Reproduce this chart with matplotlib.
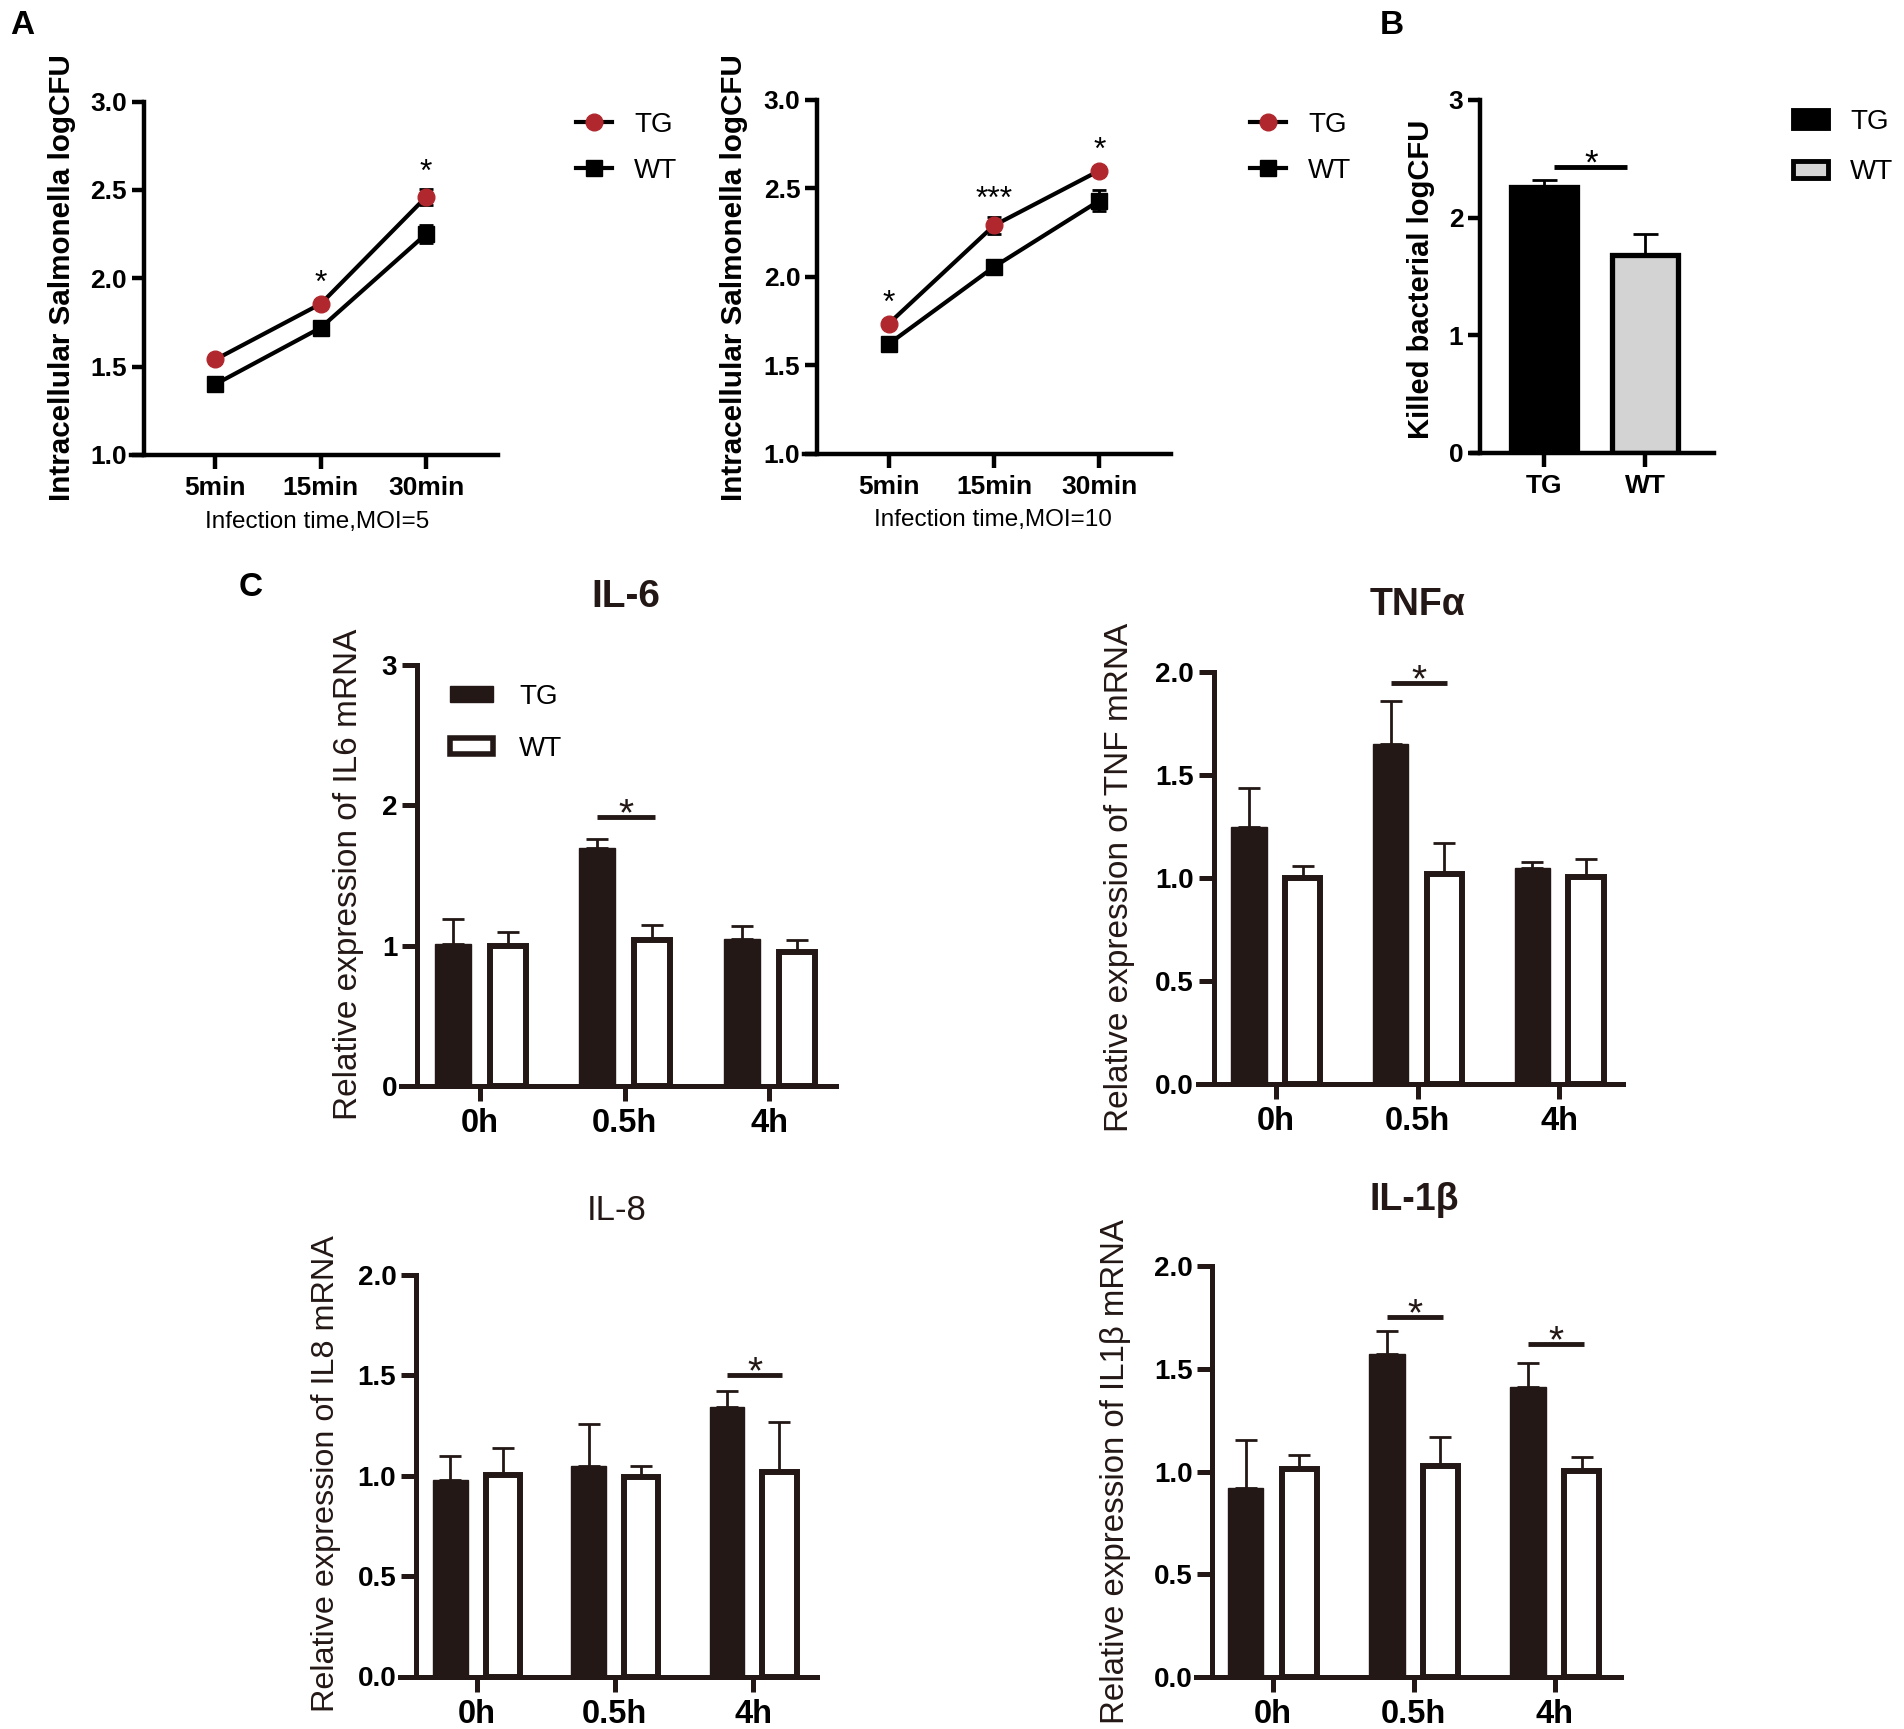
import numpy as np
import matplotlib
matplotlib.use("Agg")
import matplotlib.pyplot as plt
from matplotlib.lines import Line2D
from matplotlib.patches import Patch

plt.rcParams['font.family'] = ['Liberation Sans', 'DejaVu Sans']

# ---- data ----
times = ['5min', '15min', '30min']
moi5_tg = [1.54, 1.855, 2.46]
moi5_tg_err = [0.02, 0.02, 0.045]
moi5_wt = [1.40, 1.72, 2.25]
moi5_wt_err = [0.02, 0.02, 0.05]
moi5_stars = ['', '*', '*']

moi10_tg = [1.735, 2.29, 2.60]
moi10_tg_err = [0.02, 0.05, 0.02]
moi10_wt = [1.62, 2.056, 2.43]
moi10_wt_err = [0.02, 0.02, 0.06]
moi10_stars = ['*', '***', '*']

groups_b = ['TG', 'WT']
killed = [2.26, 1.68]
killed_err = [0.06, 0.18]
killed_sig = 2.43

hours = ['0h', '0.5h', '4h']
il6_tg = [1.01, 1.70, 1.05]
il6_tg_err = [0.18, 0.06, 0.09]
il6_wt = [1.00, 1.04, 0.955]
il6_wt_err = [0.10, 0.105, 0.085]
il6_sig = [(1, 1.92)]

tnf_tg = [1.25, 1.652, 1.047]
tnf_tg_err = [0.19, 0.21, 0.032]
tnf_wt = [1.00, 1.02, 1.005]
tnf_wt_err = [0.06, 0.15, 0.087]
tnf_sig = [(1, 1.95)]

il8_tg = [0.977, 1.048, 1.341]
il8_tg_err = [0.123, 0.211, 0.079]
il8_wt = [1.002, 0.996, 1.02]
il8_wt_err = [0.134, 0.052, 0.248]
il8_sig = [(2, 1.50)]

il1b_tg = [0.919, 1.573, 1.411]
il1b_tg_err = [0.232, 0.11, 0.115]
il1b_wt = [1.01, 1.027, 1.003]
il1b_wt_err = [0.071, 0.143, 0.067]
il1b_sig = [(1, 1.75), (2, 1.62)]

RED = '#b0282e'
DARK = '#231815'
W, H = 1904, 1729
fig = plt.figure(figsize=(W / 100, H / 100), dpi=100)


def px_axes(left, right, top, bottom):
    return fig.add_axes([left / W, 1 - bottom / H, (right - left) / W, (bottom - top) / H])


def fx(x):
    return x / W


def fy(y):
    return 1 - y / H


def style_axes(ax, xlim, ylim, lw, tlen, color, ext):
    ax.set_xlim(xlim)
    ax.set_ylim(ylim)
    for s in ['top', 'right']:
        ax.spines[s].set_visible(False)
    for s in ['left', 'bottom']:
        ax.spines[s].set_linewidth(lw)
        ax.spines[s].set_color(color)
    ax.spines['bottom'].set_bounds(xlim[0] - ext, xlim[1])
    ax.tick_params(axis='both', width=lw, length=tlen, color=color, direction='out')


# ---------------- Panel A ----------------
def line_panel(ax, tg, tg_err, wt, wt_err, stars, xlabel_text, xl_pos):
    x = np.arange(len(times))
    ax.errorbar(x, wt, yerr=wt_err, fmt='-s', color='black', lw=3, ms=12,
                capsize=5, capthick=2, elinewidth=2, zorder=3)
    ax.errorbar(x, tg, yerr=tg_err, fmt='-o', color='black', mfc=RED, mec=RED,
                lw=3, ms=12, capsize=5, capthick=2, elinewidth=2, ecolor='black', zorder=4)
    for i, s in enumerate(stars):
        if s:
            ax.annotate(s, (x[i], tg[i] + tg_err[i]), xytext=(0, 6), textcoords='offset points',
                        ha='center', va='baseline', fontsize=23)
    style_axes(ax, (-0.68, 2.68), (1.0, 3.0), 3.2, 9, 'black', 0.12)
    ax.set_xticks(x, times, fontsize=19, fontweight='bold')
    yt = [1.0, 1.5, 2.0, 2.5, 3.0]
    ax.set_yticks(yt, [f'{v:.1f}' for v in yt], fontsize=19, fontweight='bold')
    ax.tick_params(axis='x', length=10, pad=5)
    ax.tick_params(axis='y', pad=3)
    fig.text(fx(xl_pos[0]), fy(xl_pos[1]), xlabel_text, ha='center', va='center', fontsize=17.5)


axA1 = px_axes(143.8, 497.8, 101.5, 454.9)
line_panel(axA1, moi5_tg, moi5_tg_err, moi5_wt, moi5_wt_err, moi5_stars,
           'Infection time,MOI=5', (317, 522))
axA2 = px_axes(817, 1171, 99.8, 453.8)
line_panel(axA2, moi10_tg, moi10_tg_err, moi10_wt, moi10_wt_err, moi10_stars,
           'Infection time,MOI=10', (993, 520))

for xc, yc in [(62.5, 278), (733.5, 278)]:
    fig.text(fx(xc), fy(yc), 'Intracellular Salmonella logCFU', rotation=90,
             ha='center', va='center', fontsize=21.3, fontweight='bold')

line_handles = [Line2D([], [], color='black', lw=3, marker='o', ms=12, mfc=RED, mec=RED),
                Line2D([], [], color='black', lw=3, marker='s', ms=12)]
for left in [576, 1250]:
    fig.legend(line_handles, ['TG', 'WT'], loc='center left',
               bbox_to_anchor=(fx(left), fy(148)), bbox_transform=fig.transFigure,
               frameon=False, fontsize=20, handlelength=1.3, handletextpad=0.8,
               labelspacing=0.72, borderpad=0, borderaxespad=0)

# ---------------- Panel B ----------------
axB = px_axes(1480, 1714, 99.8, 453)
xb = np.arange(len(groups_b))
axB.errorbar(xb, killed, yerr=[np.zeros(len(killed)), killed_err], fmt='none',
             ecolor='black', elinewidth=2, capsize=9, capthick=2, zorder=1)
axB.bar(xb, killed, width=0.65, color=['black', '#d3d3d3'], edgecolor='black',
        linewidth=3.8, zorder=2)
axB.plot([0.1, 0.82], [killed_sig, killed_sig], color='black', lw=3.5, solid_capstyle='butt')
axB.annotate('*', (0.46, killed_sig), xytext=(0, -5), textcoords='offset points',
             ha='center', va='baseline', fontsize=25)
style_axes(axB, (-0.636, 1.68), (0, 3), 3.2, 9, 'black', 0.08)
axB.set_xticks(xb, groups_b, fontsize=19, fontweight='bold')
axB.set_yticks([0, 1, 2, 3], ['0', '1', '2', '3'], fontsize=19, fontweight='bold')
axB.tick_params(axis='x', length=10, pad=5)
axB.tick_params(axis='y', pad=3)
fig.text(fx(1420.7), fy(279.3), 'Killed bacterial logCFU', rotation=90,
         ha='center', va='center', fontsize=21, fontweight='bold')
bar_handles_b = [Patch(facecolor='black', edgecolor='black', lw=3.5),
                 Patch(facecolor='#d3d3d3', edgecolor='black', lw=3.5)]
fig.legend(bar_handles_b, ['TG', 'WT'], loc='center left',
           bbox_to_anchor=(fx(1793), fy(147)), bbox_transform=fig.transFigure,
           frameon=False, fontsize=20, handlelength=1.25, handleheight=0.6,
           handletextpad=0.8, labelspacing=0.88, borderpad=0, borderaxespad=0)


# ---------------- Panel C ----------------
def bar_panel(ax, tg, tg_err, wt, wt_err, sig, ylim, yt, xlim, ydec):
    x = np.arange(len(hours))
    off, bw = 0.19, 0.25
    for xs, v, e, fc in [(x - off, tg, tg_err, DARK), (x + off, wt, wt_err, 'white')]:
        ax.errorbar(xs, v, yerr=[np.zeros(len(v)), e], fmt='none', ecolor=DARK,
                    elinewidth=2, capsize=8, capthick=2, zorder=1)
        ax.bar(xs, v, width=bw, color=fc, edgecolor=DARK, linewidth=4.3 if fc == 'white' else 1,
               zorder=2)
    for i, yv in sig:
        ax.plot([i - 0.19, i + 0.21], [yv, yv], color=DARK, lw=3.5, solid_capstyle='butt')
        ax.annotate('*', (i + 0.01, yv), xytext=(0, -6), textcoords='offset points',
                    ha='center', va='baseline', fontsize=28, color=DARK)
    style_axes(ax, xlim, ylim, 3.6, 11, DARK, 0.11)
    ax.set_xticks(x, hours, fontsize=23.5, fontweight='bold')
    ax.set_yticks(yt, [f'{v:.{ydec}f}' for v in yt], fontsize=20, fontweight='bold')
    ax.tick_params(axis='x', pad=5)
    ax.tick_params(axis='y', pad=3)


ax6 = px_axes(416.6, 836, 665.2, 1086)
bar_panel(ax6, il6_tg, il6_tg_err, il6_wt, il6_wt_err, il6_sig, (0, 3), [0, 1, 2, 3], (-0.44, 2.46), 0)
axT = px_axes(1213.5, 1623, 672.3, 1084)
bar_panel(axT, tnf_tg, tnf_tg_err, tnf_wt, tnf_wt_err, tnf_sig, (0, 2), [0, 0.5, 1.0, 1.5, 2.0], (-0.44, 2.45), 1)
ax8 = px_axes(415.7, 816.8, 1275, 1676.5)
bar_panel(ax8, il8_tg, il8_tg_err, il8_wt, il8_wt_err, il8_sig, (0, 2), [0, 0.5, 1.0, 1.5, 2.0], (-0.44, 2.46), 1)
ax1b = px_axes(1212, 1621, 1266, 1677)
bar_panel(ax1b, il1b_tg, il1b_tg_err, il1b_wt, il1b_wt_err, il1b_sig, (0, 2), [0, 0.5, 1.0, 1.5, 2.0], (-0.43, 2.47), 1)

titles = [('IL-6', 626, 597, 'bold', 28), ('TNFα', 1418, 604.6, 'bold', 27),
          ('IL-8', 616.8, 1211, 'normal', 25), ('IL-1β', 1414, 1200.5, 'bold', 27)]
for t, xc, yc, fw, fs in titles:
    fig.text(fx(xc), fy(yc), t, ha='center', va='center', fontsize=fs, fontweight=fw, color=DARK)

ylabels = [('Relative expression of IL6 mRNA', 348, 874, 24),
           ('Relative expression of TNF mRNA', 1119.4, 877, 24),
           ('Relative expression of IL8 mRNA', 325.7, 1474, 23.3),
           ('Relative expression of IL1β mRNA', 1115.7, 1471, 23.8)]
for t, xc, yc, fs in ylabels:
    fig.text(fx(xc), fy(yc), t, rotation=90, ha='center', va='center', fontsize=fs, color=DARK)

bar_handles_c = [Patch(facecolor=DARK, edgecolor=DARK, lw=1),
                 Patch(facecolor='white', edgecolor=DARK, lw=4)]
fig.legend(bar_handles_c, ['TG', 'WT'], loc='center left',
           bbox_to_anchor=(fx(449.7), fy(723)), bbox_transform=fig.transFigure,
           frameon=False, fontsize=20, handlelength=1.55, handleheight=0.5,
           handletextpad=0.95, labelspacing=0.95, borderpad=0, borderaxespad=0)

# panel letters
for t, xc, yc in [('A', 22, 26), ('B', 1392, 26), ('C', 250.7, 588)]:
    fig.text(fx(xc), fy(yc), t, ha='center', va='center', fontsize=24, fontweight='bold')

fig.savefig('out.png', dpi=100)
